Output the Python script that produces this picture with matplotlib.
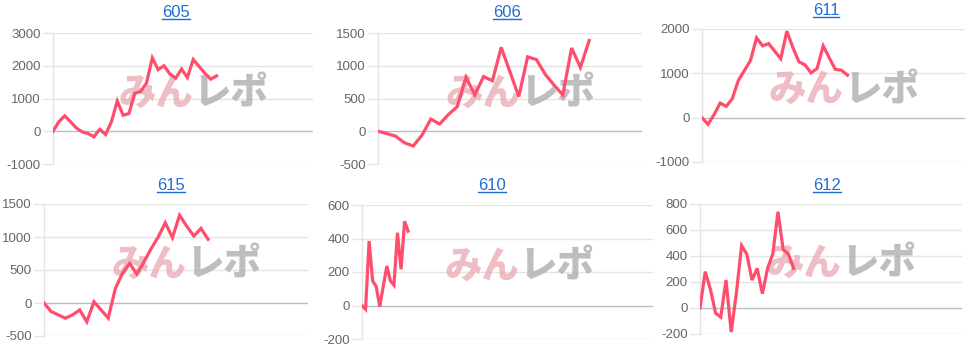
import matplotlib; matplotlib.use('Agg')
import matplotlib.pyplot as plt
from matplotlib.lines import Line2D
import numpy as np

plt.rcParams['font.family'] = ['Liberation Sans', 'DejaVu Sans']
plt.rcParams['axes.unicode_minus'] = False

# ---------------------------------------------------------------- data
titles = ['605', '606', '611', '615', '610', '612']

v605 = [0, 290, 470, 290, 100, -20, -70, -170, 60, -100, 290, 920, 490, 540, 1160,
        1210, 1470, 2240, 1880, 2000, 1750, 1620, 1900, 1640, 2190, 1980, 1770, 1590, 1690]
v606 = [0, -35, -75, -175, -225, -60, 185, 110, 255, 375, 825, 555, 835, 770, 1280,
        905, 530, 1135, 1095, 870, 705, 555, 1270, 975, 1385]
v611 = [0, -150, 70, 330, 255, 430, 840, 1065, 1290, 1800, 1620, 1670, 1500, 1330,
        1950, 1580, 1260, 1190, 1010, 1110, 1620, 1350, 1090, 1070, 960]
v615 = [0, -130, -180, -230, -180, -105, -285, 20, -105, -230, 220, 450, 600, 440,
        620, 820, 1000, 1215, 990, 1330, 1165, 1015, 1130, 965]
v610 = [0, -22, 385, 147, 113, -6, 117, 236, 147, 121, 434, 216, 503, 444]
v612 = [0, 280, 145, -40, -70, 215, -185, 115, 480, 415, 215, 305, 110, 305, 415,
        740, 450, 415, 305]

series = [v605, v606, v611, v615, v610, v612]
y_ticks = [[-1000, 0, 1000, 2000, 3000],
           [-500, 0, 500, 1000, 1500],
           [-1000, 0, 1000, 2000],
           [-500, 0, 500, 1000, 1500],
           [-200, 0, 200, 400, 600],
           [-200, 0, 200, 400, 600, 800]]
x_max = [44.5, 30, 43.4, 37, 82, 50.4]

# ---------------------------------------------------------------- layout (pixels)
W, H = 975, 347
# left, right, top, bottom of each plot area; title centre x, y
boxes = [(53, 313, 33, 164, 176, 12.5),
         (378, 642, 33, 164, 507, 12.5),
         (702, 965, 29, 162, 826, 10.5),
         (44, 308, 204, 336, 171, 185.5),
         (362, 653, 205, 339, 492, 185.5),
         (700, 962, 204, 334, 827, 185.5)]

line_col = '#ff4d6d'
grid_col = '#e4e4e4'
zero_col = '#bdbdbd'
tick_col = '#666666'
link_col = '#1f6fd1'

fig = plt.figure(figsize=(W / 100, H / 100), dpi=100)
fig.patch.set_facecolor('white')

title_texts = []
for i in range(6):
    L, R, T, B, tx, ty = boxes[i]
    ax = fig.add_axes([L / W, 1 - B / H, (R - L) / W, (B - T) / H])
    ax.set_facecolor('none')
    vals = series[i]
    ax.plot(range(len(vals)), vals, color=line_col, linewidth=2.3, zorder=3,
            solid_joinstyle='miter')

    ax.set_xlim(0, x_max[i])
    ax.set_ylim(y_ticks[i][0], y_ticks[i][-1])
    ax.set_yticks(y_ticks[i])
    ax.set_xticks([])
    for t in y_ticks[i]:
        ax.axhline(t, color=zero_col if t == 0 else grid_col, linewidth=1.0, zorder=1)

    for s in ['top', 'right', 'bottom']:
        ax.spines[s].set_visible(False)
    ax.spines['left'].set_color(grid_col)
    ax.spines['left'].set_linewidth(1.0)
    ax.tick_params(axis='y', length=7, width=1.0, color=grid_col, labelcolor=tick_col,
                   labelsize=9.5, pad=2)

    # watermark
    ax.text(0.54, 0.54, 'みん', transform=ax.transAxes, ha='right', va='center',
            fontsize=27, fontweight='black', color='#eaa9b0', alpha=0.75,
            family=['Noto Sans CJK JP'], zorder=2)
    ax.text(0.54, 0.54, 'レポ', transform=ax.transAxes, ha='left', va='center',
            fontsize=27, fontweight='black', color='#b3b3b3', alpha=0.85,
            family=['Noto Sans CJK JP'], zorder=2)

    t = fig.text(tx / W, 1 - ty / H, titles[i], ha='center', va='center',
                 fontsize=12, color=link_col)
    title_texts.append(t)

# underline the link titles
fig.canvas.draw()
r = fig.canvas.get_renderer()
for t in title_texts:
    bb = t.get_window_extent(renderer=r)
    y = bb.y0 + 1.5
    fig.add_artist(Line2D([bb.x0 / W, bb.x1 / W], [y / H, y / H],
                          transform=fig.transFigure, color=link_col, linewidth=1.0))

fig.savefig('out.png', dpi=100)
